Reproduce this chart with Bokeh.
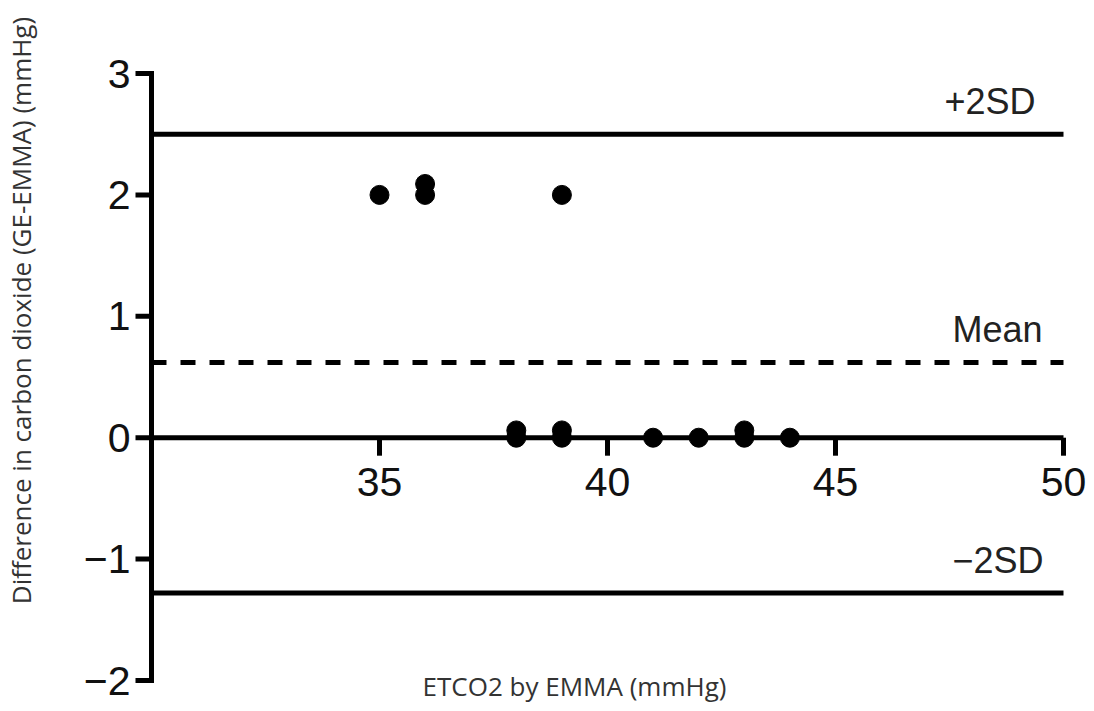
import math
from bokeh.plotting import figure
from bokeh.models import Label
from bokeh.core.properties import value
from bokeh.embed import file_html
from bokeh.resources import INLINE

# ---- Data ----
x_vals = [35, 36, 36, 39, 38, 38, 39, 39, 41, 42, 43, 43, 44]
y_vals = [2.0, 2.0, 2.09, 2.0, 0.0, 0.06, 0.0, 0.06, 0.0, 0.0, 0.0, 0.06, 0.0]
mean_diff = 0.62
upper_sd = 2.50
lower_sd = -1.28
x_ticks = [35, 40, 45, 50]
x_tick_labels = ["35", "40", "45", "50"]
y_ticks = [-2, -1, 0, 1, 2, 3]
y_tick_labels = ["\u22122", "\u22121", "0", "1", "2", "3"]
line_labels = ["+2SD", "Mean", "\u22122SD"]
x_title = "ETCO2 by EMMA (mmHg)"
y_title = "Difference in carbon dioxide (GE-EMMA) (mmHg)"
x_min, x_max = 30, 50
y_min, y_max = -2, 3

# ---- Layout (pixels) ----
W, H = 1086, 703
axis_left_px, axis_right_px = 151, 1063   # where x_min / x_max fall
axis_top_px, axis_bottom_px = 73, 680     # where y_max / y_min fall
sx = (axis_right_px - axis_left_px) / (x_max - x_min)
sy = (axis_bottom_px - axis_top_px) / (y_max - y_min)
xr = (x_min - axis_left_px / sx, x_max + (W - axis_right_px) / sx)
yr = (y_min - (H - axis_bottom_px) / sy, y_max + axis_top_px / sy)

p = figure(width=W, height=H, x_range=xr, y_range=yr,
           output_backend="svg", toolbar_location=None,
           x_axis_location=None, y_axis_location=None,
           min_border=0, min_border_left=0, min_border_right=0,
           min_border_top=0, min_border_bottom=0)
p.outline_line_color = None
p.grid.visible = False
p.background_fill_color = "white"
p.border_fill_color = "white"

LW = 5
TICK_FONT = value("Liberation Sans")

# ---- y axis (at x = x_min) ----
p.segment(x0=[x_min], y0=[y_min], x1=[x_min], y1=[y_max], line_color="black",
          line_width=LW, line_cap="square")
p.ray(x=[x_min] * len(y_ticks), y=y_ticks, length=16, length_units="screen",
      angle=math.pi, line_color="black", line_width=LW)
p.text(x=[x_min] * len(y_ticks), y=y_ticks, text=y_tick_labels, text_font=TICK_FONT,
       text_font_size="41px", text_color="#111111", text_align="right",
       text_baseline="middle", x_offset=-21)

# ---- x axis (at y = 0) ----
p.segment(x0=[x_min], y0=[0], x1=[x_max], y1=[0], line_color="black", line_width=LW)
p.ray(x=x_ticks, y=[0] * len(x_ticks), length=18, length_units="screen",
      angle=-math.pi / 2, line_color="black", line_width=LW)
p.text(x=x_ticks, y=[0] * len(x_ticks), text=x_tick_labels, text_font=TICK_FONT,
       text_font_size="41px", text_color="#111111", text_align="center",
       text_baseline="top", y_offset=30)

# ---- reference lines ----
p.segment(x0=[x_min, x_min], y0=[upper_sd, lower_sd], x1=[x_max, x_max],
          y1=[upper_sd, lower_sd], line_color="black", line_width=LW)
p.segment(x0=[x_min], y0=[mean_diff], x1=[x_max], y1=[mean_diff], line_color="black",
          line_width=LW, line_dash="15 14")

# ---- points ----
p.scatter(x_vals, y_vals, size=19, fill_color="black", line_color="black")

# ---- line labels ----
for yv, txt, xo, yo in [(upper_sd, line_labels[0], -28, 33),
                        (mean_diff, line_labels[1], -21, 33),
                        (lower_sd, line_labels[2], -20, 33)]:
    p.add_layout(Label(x=x_max, y=yv, text=txt, x_offset=xo, y_offset=yo,
                       text_align="right", text_baseline="alphabetic",
                       text_font="Liberation Sans", text_font_size="36px",
                       text_color="#222222"))

# ---- axis titles ----
p.add_layout(Label(x=574, y=H - 685, x_units="screen", y_units="screen",
                   text=x_title, text_align="center", text_baseline="alphabetic",
                   text_font="Open Sans", text_font_size="26px", text_color="#333333"))
p.add_layout(Label(x=20, y=H - 310, x_units="screen", y_units="screen", angle=math.pi / 2,
                   text=y_title, text_align="center", text_baseline="middle",
                   text_font="Open Sans", text_font_size="26px", text_color="#333333"))

open("out.html", "w").write(file_html(p, INLINE))
